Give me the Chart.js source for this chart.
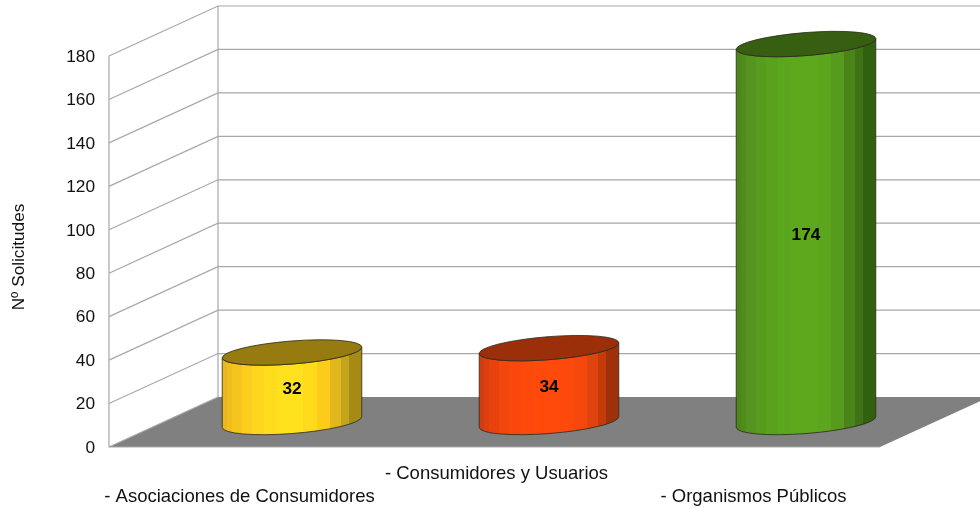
<!DOCTYPE html>
<html>
<head>
<meta charset="utf-8">
<title>Solicitudes</title>
<script src="https://cdn.jsdelivr.net/npm/chart.js@4"></script>
<style>
  html, body { margin: 0; padding: 0; background: #fff; }
  #wrap { width: 980px; height: 509px; }
</style>
</head>
<body>
<div id="wrap"><canvas id="chart" width="980" height="509"></canvas></div>
<script>
const categories = ['- Asociaciones de Consumidores', '- Consumidores y Usuarios', '- Organismos Públicos'];
const solicitudes = [32, 34, 174];
const yTitle = 'Nº Solicitudes';
const yMax = 180;
const yStep = 20;

// cylinder colours: vertical strips left to right, and the darker lid
const stripEdges = [0, 0.036, 0.07, 0.14, 0.21, 0.30, 0.39, 0.58, 0.68, 0.77, 0.85, 0.91, 1];
const sideStrips = [
  ['#e9b81f', '#efbe1e', '#f5c51d', '#fbcd1c', '#fdd51d', '#ffdc1e', '#ffe11e', '#ffdb1c', '#fdcc18', '#e0b81d', '#c4a41b', '#a68a15'],
  ['#cf3d10', '#dc400f', '#e8430e', '#f3460d', '#fa480c', '#fe490c', '#ff4a0c', '#fe490c', '#f6470c', '#df440f', '#c53a0b', '#9f310a'],
  ['#4c861b', '#508c1b', '#549420', '#589c1e', '#5aa21e', '#5ca61e', '#5ea81e', '#5ca61e', '#569a1e', '#4a8419', '#3f7216', '#33600f'],
];
const lidColors = ['#957b10', '#9b2f09', '#365f12'];

// 3D look
const DEPTH_X = 109, DEPTH_Y = -50;
const RADIUS = 70, MINOR = 11.5, TILT = -4.5 * Math.PI / 180;
const GRID = '#a8a8a8';
const FONT = '"Liberation Sans", Arial, sans-serif';

const box3d = {
  id: 'box3d',
  beforeDatasetsDraw(chart) {
    const { ctx, scales: { y }, chartArea: area } = chart;
    const y0 = y.getPixelForValue(0);
    ctx.save();

    // floor
    ctx.beginPath();
    ctx.moveTo(area.left, y0);
    ctx.lineTo(area.right, y0);
    ctx.lineTo(area.right + DEPTH_X, y0 + DEPTH_Y);
    ctx.lineTo(area.left + DEPTH_X, y0 + DEPTH_Y);
    ctx.closePath();
    ctx.fillStyle = '#808080';
    ctx.fill();

    // walls
    ctx.strokeStyle = GRID;
    ctx.lineWidth = 1.2;
    for (let v = 0; v <= yMax; v += yStep) {
      const py = y.getPixelForValue(v);
      ctx.beginPath();
      ctx.moveTo(area.left, py);
      ctx.lineTo(area.left + DEPTH_X, py + DEPTH_Y);
      if (v > 0) ctx.lineTo(area.right + DEPTH_X, py + DEPTH_Y);
      ctx.stroke();
    }
    const yTop = y.getPixelForValue(yMax);
    ctx.beginPath();
    ctx.moveTo(area.left, yTop);
    ctx.lineTo(area.left, y0);
    ctx.lineTo(area.right, y0);
    ctx.moveTo(area.left + DEPTH_X, yTop + DEPTH_Y);
    ctx.lineTo(area.left + DEPTH_X, y0 + DEPTH_Y);
    ctx.stroke();
    ctx.restore();
  },
  afterDatasetsDraw(chart) {
    const { ctx } = chart;
    const meta = chart.getDatasetMeta(0);
    const xExtent = Math.sqrt(RADIUS ** 2 * Math.cos(TILT) ** 2 + MINOR ** 2 * Math.sin(TILT) ** 2);
    // ellipse angles of the leftmost and rightmost points
    const tRight = Math.atan2(-MINOR * Math.sin(TILT), RADIUS * Math.cos(TILT));
    const tLeft = tRight + Math.PI;
    const edgeY = RADIUS * Math.sin(TILT) * Math.cos(tRight) + MINOR * Math.cos(TILT) * Math.sin(tRight);

    meta.data.forEach((bar, i) => {
      const cx = bar.x + DEPTH_X / 2;
      const top = bar.y + DEPTH_Y / 2;
      const bottom = bar.base + DEPTH_Y / 2;

      const grad = ctx.createLinearGradient(cx - xExtent, 0, cx + xExtent, 0);
      sideStrips[i].forEach((col, k) => {
        grad.addColorStop(stripEdges[k], col);
        grad.addColorStop(stripEdges[k + 1], col);
      });

      ctx.save();
      ctx.lineWidth = 0.8;
      ctx.strokeStyle = '#2a2a1a';

      // side
      ctx.beginPath();
      ctx.moveTo(cx + xExtent, top + edgeY);
      ctx.lineTo(cx + xExtent, bottom + edgeY);
      ctx.ellipse(cx, bottom, RADIUS, MINOR, TILT, tRight, tLeft, false);
      ctx.lineTo(cx - xExtent, top - edgeY);
      ctx.ellipse(cx, top, RADIUS, MINOR, TILT, tLeft, tRight, true);
      ctx.closePath();
      ctx.fillStyle = grad;
      ctx.fill();
      ctx.stroke();

      // lid
      ctx.beginPath();
      ctx.ellipse(cx, top, RADIUS, MINOR, TILT, 0, Math.PI * 2);
      ctx.fillStyle = lidColors[i];
      ctx.fill();
      ctx.stroke();

      // value
      ctx.fillStyle = '#000';
      ctx.font = `bold 17.3px ${FONT}`;
      ctx.textAlign = 'center';
      ctx.textBaseline = 'middle';
      ctx.fillText(solicitudes[i], cx, (top + bottom) / 2 + 2);
      ctx.restore();
    });

    // axis title sits lower than the scale's own centre, so it is placed by hand
    ctx.save();
    ctx.translate(19, 257);
    ctx.rotate(-Math.PI / 2);
    ctx.fillStyle = '#111';
    ctx.font = `17.2px ${FONT}`;
    ctx.textAlign = 'center';
    ctx.textBaseline = 'middle';
    ctx.fillText(yTitle, 0, 0);
    ctx.restore();
  }
};

new Chart(document.getElementById('chart'), {
  type: 'bar',
  data: {
    labels: categories,
    datasets: [{ label: yTitle, data: solicitudes, backgroundColor: 'rgba(0,0,0,0)', borderWidth: 0 }],
  },
  options: {
    responsive: false,
    animation: false,
    layout: { padding: { top: 56, right: 100, bottom: 0, left: 0 } },
    plugins: { legend: { display: false }, tooltip: { enabled: false } },
    scales: {
      x: {
        grid: { display: false, drawTicks: false },
        border: { display: false },
        ticks: {
          color: '#111',
          font: { family: FONT, size: 18.5, lineHeight: 1.25 },
          maxRotation: 0,
          autoSkip: false,
          padding: 15,
          labelOffset: 2,
          // middle category sits one line above the outer ones
          callback(v, i) { return i === 1 ? categories[i] : ['', categories[i]]; },
        },
        afterFit(s) { s.height = 62; },
      },
      y: {
        min: 0,
        max: yMax,
        grid: { display: false, drawTicks: false },
        border: { display: false },
        ticks: {
          stepSize: yStep,
          color: '#111',
          font: { family: FONT, size: 17.3 },
          padding: 14,
          labelOffset: 1,
        },
        afterFit(s) { s.width = 109; },
      },
    },
  },
  plugins: [box3d],
});
</script>
</body>
</html>
